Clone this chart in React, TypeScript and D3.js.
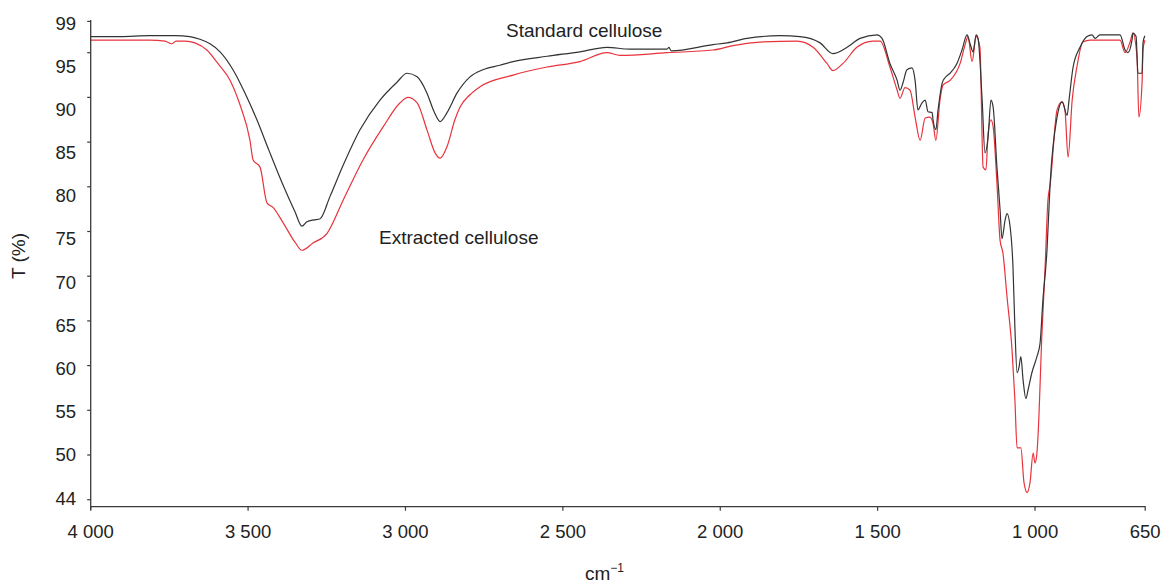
import React from 'react';
import * as d3 from 'd3';

// ---------- data ----------
const standardWn = [4000,3907,3812,3732,3685,3653,3621,3589,3548,3510,3472,3434,3389,3351,3329,3313,3291,3272,3240,3198,3144,3081,3027,2995,2963,2932,2909,2890,2868,2836,2795,2754,2700,2658,2550,2446,2360,2287,2169,2163,2156,2023,1978,1915,1810,1747,1683,1642,1597,1556,1502,1486,1461,1438,1429,1419,1407,1391,1381,1372,1359,1349,1340,1327,1324,1315,1308,1295,1286,1270,1248,1232,1216,1207,1197,1187,1181,1168,1159,1149,1140,1133,1121,1111,1105,1095,1089,1079,1070,1064,1057,1051,1045,1038,1029,1022,1010,994,984,975,962,952,930,914,898,892,879,857,835,819,809,794,730,714,705,692,689,679,673,660,657,651];
const standardT = [96.8,96.8,96.9,96.9,96.8,96.5,96.0,95.1,93.1,90.5,87.5,84.1,80.2,77.2,75.6,76.1,76.3,76.4,78.9,82.4,86.4,89.7,91.7,92.7,92.3,90.5,88.4,87.3,88.3,90.5,92.3,93.1,93.6,94.0,94.6,95.1,95.6,95.4,95.4,95.6,95.2,95.9,96.1,96.6,96.9,96.8,96.1,94.9,95.6,96.6,97.0,96.6,93.8,91.9,90.8,91.7,93.1,93.3,91.9,88.6,89.4,89.7,88.4,88.3,87.5,86.4,88.6,91.6,92.2,92.7,93.8,95.3,97.0,96.1,95.1,97.0,96.6,89.7,83.8,85.6,89.7,88.9,82.2,77.4,74.2,76.3,77.0,75.5,71.0,64.3,59.2,59.8,61.0,58.4,56.3,57.3,59.2,61.0,62.5,67.3,72.9,80.4,87.8,89.5,88.0,89.7,93.4,95.6,96.8,97.0,96.6,97.0,97.0,95.3,95.0,96.4,97.2,96.8,92.7,92.7,96.1,96.9];

const extractedWn = [4000,3907,3812,3764,3742,3729,3700,3669,3631,3596,3557,3526,3494,3484,3462,3440,3421,3389,3351,3329,3294,3249,3198,3135,3071,3017,2992,2963,2932,2906,2890,2868,2843,2827,2795,2763,2658,2550,2446,2360,2318,2169,2023,1959,1864,1756,1705,1661,1642,1610,1566,1515,1492,1461,1438,1429,1413,1397,1381,1365,1349,1334,1324,1315,1302,1292,1270,1238,1222,1213,1200,1187,1175,1165,1156,1149,1140,1133,1121,1111,1102,1089,1073,1064,1057,1045,1035,1025,1016,1006,1000,994,990,978,968,959,952,930,914,905,895,882,867,848,825,730,714,698,689,676,670,660,657,651];
const extractedT = [96.4,96.4,96.4,96.3,96.0,96.3,96.3,96.1,95.3,93.8,91.9,89.2,85.2,83.0,82.2,78.2,77.7,76.0,73.8,72.9,73.7,74.8,78.5,83.0,86.7,89.4,90.0,89.4,86.4,83.8,83.2,84.5,87.5,88.9,90.3,91.2,92.5,93.4,94.0,95.0,94.7,95.0,95.3,95.8,96.2,96.3,95.6,93.8,93.0,93.8,95.6,96.3,96.3,93.4,90.8,89.9,91.1,90.8,87.8,85.2,87.7,87.8,87.1,85.2,89.7,91.4,91.9,93.8,95.9,96.8,94.0,96.8,95.6,82.2,81.9,86.0,87.5,86.7,80.4,74.0,72.6,67.7,61.7,56.2,50.8,50.8,46.9,45.8,46.9,50.2,49.1,50.2,52.5,63.6,71.0,78.5,80.2,88.6,89.5,88.6,83.3,89.7,93.4,96.2,96.4,96.4,95.0,96.2,97.2,94.5,87.8,91.6,95.3,96.4];

const xTickValues = [4000, 3500, 3000, 2500, 2000, 1500, 1000, 650];
const xTickLabels = ['4 000', '3 500', '3 000', '2 500', '2 000', '1 500', '1 000', '650'];
const yTickValues = [98.5, 95, 90, 85, 80, 75, 70, 65, 60, 55, 50, 45];
const yTickLabels = ['99', '95', '90', '85', '80', '75', '70', '65', '60', '55', '50', '44'];

const seriesNames = ['Standard cellulose', 'Extracted cellulose'];

// ---------- layout ----------
const W = 1166;
const H = 583;
const LEFT = 90.7;
const RIGHT = 1145.2;
const TOP = 20;
const BOTTOM = 506.7;
const FONT = '"Liberation Sans", Arial, Helvetica, sans-serif';
const AXIS = '#3a3a3a';
const TEXT = '#222';

export default function App() {
  const x = d3.scaleLinear().domain([4000, 650]).range([LEFT, RIGHT]);
  const y = d3.scaleLinear().domain([50, 95]).range([455, 52.7]);
  const yLabelPos = d3.scalePoint<string>().domain(yTickLabels).range([23, 498]);

  const line = d3
    .line<[number, number]>()
    .x((d) => x(d[0]))
    .y((d) => y(d[1]))
    .curve(d3.curveMonotoneX);

  const stdPts = standardWn.map((w, i) => [w, standardT[i]] as [number, number]);
  const extPts = extractedWn.map((w, i) => [w, extractedT[i]] as [number, number]);

  return (
    <svg
      width={W}
      height={H}
      style={{ position: 'absolute', left: 0, top: 0, background: '#fff' }}
      fontFamily={FONT}
    >
      <rect x={0} y={0} width={W} height={H} fill="#fff" />
      {/* curves */}
      <path d={line(extPts) || ''} fill="none" stroke="#e8333c" strokeWidth={1.2} strokeLinejoin="round" />
      <path d={line(stdPts) || ''} fill="none" stroke="#333" strokeWidth={1.2} strokeLinejoin="round" />

      {/* axes */}
      <line x1={LEFT} x2={LEFT} y1={TOP} y2={BOTTOM + 3} stroke={AXIS} strokeWidth={1.3} />
      <line x1={LEFT} x2={RIGHT + 0.5} y1={BOTTOM} y2={BOTTOM} stroke={AXIS} strokeWidth={1.3} />

      {yTickValues.map((v, i) => (
        <g key={'y' + i}>
          <line x1={LEFT - 3.5} x2={LEFT} y1={y(v)} y2={y(v)} stroke={AXIS} strokeWidth={1.2} />
          <text
            x={76}
            y={yLabelPos(yTickLabels[i])}
            textAnchor="end"
            dominantBaseline="central"
            fontSize={18.5}
            fill={TEXT}
          >
            {yTickLabels[i]}
          </text>
        </g>
      ))}

      {xTickValues.map((v, i) => (
        <g key={'x' + i}>
          <line x1={x(v)} x2={x(v)} y1={BOTTOM} y2={BOTTOM + 4} stroke={AXIS} strokeWidth={1.2} />
          <text
            x={x(v)}
            y={538}
            textAnchor="middle"
            fontSize={18.5}
            fill={TEXT}
          >
            {xTickLabels[i]}
          </text>
        </g>
      ))}

      {/* axis titles */}
      <text
        transform="translate(25,256) rotate(-90)"
        textAnchor="middle"
        fontSize={19}
        fill={TEXT}
      >
        T (%)
      </text>
      <text x={585} y={580} fontSize={19} fill={TEXT}>
        cm
        <tspan dy={-8} fontSize={12}>
          −1
        </tspan>
      </text>

      {/* series annotations */}
      <text x={506} y={37} fontSize={19} fill={TEXT}>
        {seriesNames[0]}
      </text>
      <text x={379} y={244} fontSize={19} fill={TEXT}>
        {seriesNames[1]}
      </text>
    </svg>
  );
}
